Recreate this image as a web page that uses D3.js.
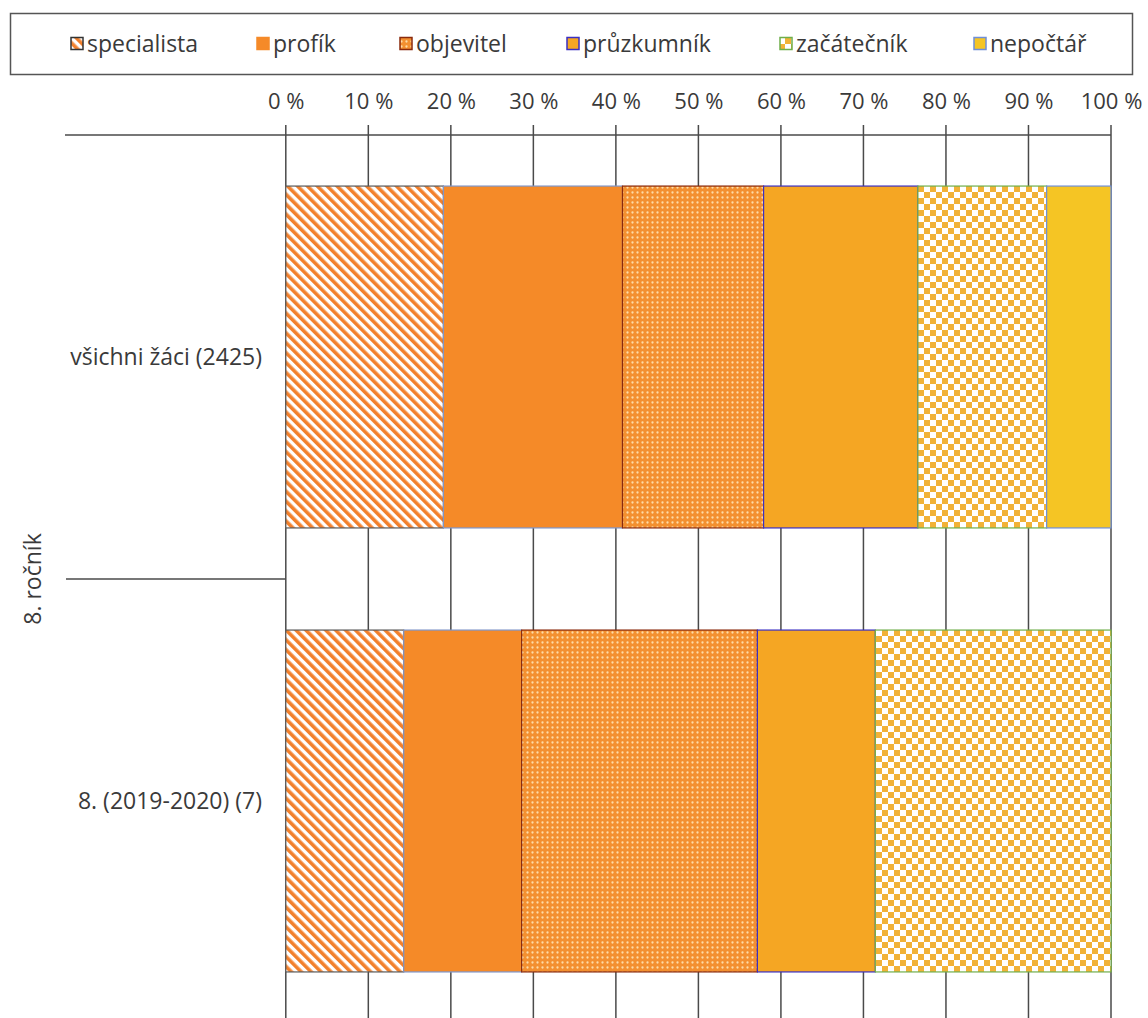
<!DOCTYPE html>
<html>
<head>
<meta charset="utf-8">
<script src="https://cdn.jsdelivr.net/npm/d3@7"></script>
<style>
  html, body { margin: 0; padding: 0; background: #fff; }
  svg text { font-family: "Open Sans", "Noto Sans", sans-serif; fill: #3a3a3a; }
</style>
</head>
<body>
<svg id="chart" width="1148" height="1018"></svg>
<script>
// ---- data ----
const categories = ["všichni žáci (2425)", "8. (2019-2020) (7)"];
const groupLabel = "8. ročník";
const seriesNames = ["specialista", "profík", "objevitel", "průzkumník", "začátečník", "nepočtář"];
const specialista = [19.1, 14.29];
const profik      = [21.7, 14.29];
const objevitel   = [17.1, 28.57];
const pruzkumnik  = [18.7, 14.29];
const zacatecnik  = [15.6, 28.57];
const nepoctar    = [7.8, 0];
const tickValues  = [0, 10, 20, 30, 40, 50, 60, 70, 80, 90, 100];

const seriesValues = [specialista, profik, objevitel, pruzkumnik, zacatecnik, nepoctar];
const rows = categories.map((c, i) => {
  const r = { cat: c };
  seriesNames.forEach((s, j) => r[s] = seriesValues[j][i]);
  return r;
});

// ---- styles ----
const fills = {
  "specialista": "url(#pStripe)",
  "profík": "#F58A28",
  "objevitel": "url(#pDots)",
  "průzkumník": "#F5A623",
  "začátečník": "url(#pCheck)",
  "nepočtář": "#F5C524"
};
const strokes = {
  "specialista": "#5a5a5a",
  "profík": "#7f95c8",
  "objevitel": "#8a2a0c",
  "průzkumník": "#3a2fc2",
  "začátečník": "#6fae4a",
  "nepočtář": "#6f8fd8"
};

const svg = d3.select("#chart");
const defs = svg.append("defs");

// stripes "\" direction
const sp = 7;
const ps = defs.append("pattern").attr("id", "pStripe").attr("patternUnits", "userSpaceOnUse")
  .attr("width", sp).attr("height", sp).attr("patternTransform", "rotate(-45)");
ps.append("rect").attr("width", sp).attr("height", sp).attr("fill", "#fff");
ps.append("rect").attr("width", 3.6).attr("height", sp).attr("fill", "#F2802C");

// dots
const pd = defs.append("pattern").attr("id", "pDots").attr("patternUnits", "userSpaceOnUse")
  .attr("width", 5).attr("height", 5);
pd.append("rect").attr("width", 5).attr("height", 5).attr("fill", "#F39030");
pd.append("circle").attr("cx", 2.5).attr("cy", 2.5).attr("r", 1.15).attr("fill", "#FDDCA8");

// checkerboard
const cs = 6;
const pc = defs.append("pattern").attr("id", "pCheck").attr("patternUnits", "userSpaceOnUse")
  .attr("width", 2 * cs).attr("height", 2 * cs);
pc.append("rect").attr("width", 2 * cs).attr("height", 2 * cs).attr("fill", "#fff");
pc.append("rect").attr("width", cs).attr("height", cs).attr("fill", "#F1B237");
pc.append("rect").attr("x", cs).attr("y", cs).attr("width", cs).attr("height", cs).attr("fill", "#F1B237");

// ---- scales ----
const x = d3.scaleLinear().domain([0, 100]).range([285.8, 1111]);
const y = d3.scaleBand().domain(categories).range([135, 1023]).paddingInner(0.23).paddingOuter(0.115);
const gridColor = "#4a4a4a";

// top axis
const axis = d3.axisTop(x).tickValues(tickValues).tickFormat(d => d + " %").tickSize(0).tickPadding(0);
const gAxis = svg.append("g").attr("transform", "translate(0,109)").call(axis);
gAxis.select(".domain").remove();
gAxis.selectAll("text").attr("font-size", 22).attr("fill", "#3a3a3a")
  .style("font-family", "'Open Sans', sans-serif").attr("dy", 0);

// vertical grid lines / ticks
svg.append("g").selectAll("line").data(tickValues).join("line")
  .attr("x1", d => x(d)).attr("x2", d => x(d))
  .attr("y1", 125).attr("y2", 1030)
  .attr("stroke", gridColor).attr("stroke-width", 1.5);

// horizontal axis line
svg.append("line").attr("x1", 65).attr("x2", x(100)).attr("y1", 135).attr("y2", 135)
  .attr("stroke", gridColor).attr("stroke-width", 1.5);

// category separator
const step = y.step();
svg.append("line").attr("x1", 66).attr("x2", x(0))
  .attr("y1", 135 + step).attr("y2", 135 + step)
  .attr("stroke", gridColor).attr("stroke-width", 1.5);

// bars
const stack = d3.stack().keys(seriesNames)(rows);
const gBars = svg.append("g");
stack.forEach(layer => {
  gBars.append("g").selectAll("rect").data(layer.filter(d => d[1] - d[0] > 0)).join("rect")
    .attr("x", d => x(d[0]))
    .attr("y", d => y(d.data.cat))
    .attr("width", d => x(d[1]) - x(d[0]))
    .attr("height", y.bandwidth())
    .attr("fill", fills[layer.key])
    .attr("stroke", strokes[layer.key])
    .attr("stroke-width", 1.2);
});

// category labels
svg.append("g").selectAll("text").data(categories).join("text")
  .attr("x", 262).attr("y", d => y(d) + y.bandwidth() / 2)
  .attr("dy", "0.35em").attr("text-anchor", "end").attr("font-size", 23)
  .text(d => d);

// group label
svg.append("text").attr("transform", `translate(41,${135 + step}) rotate(-90)`)
  .attr("text-anchor", "middle").attr("font-size", 23).text(groupLabel);

// legend
svg.append("rect").attr("x", 10.5).attr("y", 13.5).attr("width", 1122).attr("height", 61)
  .attr("fill", "#fff").attr("stroke", "#555").attr("stroke-width", 1.5);
const legendX = [70, 256, 399, 566, 779, 973];
const lg = svg.append("g").selectAll("g").data(seriesNames).join("g")
  .attr("transform", (d, i) => `translate(${legendX[i]},44)`);
lg.append("rect").attr("x", 1).attr("y", -6.5).attr("width", 12).attr("height", 12)
  .attr("fill", d => fills[d])
  .attr("stroke", d => d === "profík" ? "#F58A28" : (d === "specialista" ? "#333" : strokes[d]))
  .attr("stroke-width", 1.5);
lg.append("text").attr("x", 17).attr("y", 0).attr("dy", "0.35em").attr("font-size", 23)
  .text(d => d);
</script>
</body>
</html>
